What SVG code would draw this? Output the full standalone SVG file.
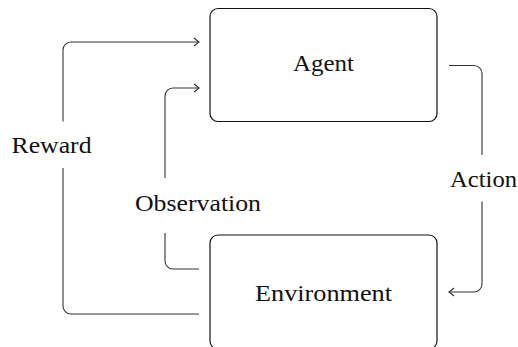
<svg xmlns="http://www.w3.org/2000/svg" width="518" height="347" viewBox="0 0 518 347">
<style>
.box{fill:#fff;stroke:#111;stroke-width:1.2}
.lbl{font-family:'Liberation Serif','Times New Roman',serif;font-size:24px;fill:#111;text-anchor:middle}
.con{fill:none;stroke:#333;stroke-width:1.1}
</style>
<defs>
<marker id="arr" viewBox="-6 -5 8 10" markerWidth="8" markerHeight="10" refX="0" refY="0" orient="auto" markerUnits="userSpaceOnUse">
<path d="M -5 -4 Q -1.5 -1 0 0 Q -1.5 1 -5 4" fill="none" stroke="#333" stroke-width="1.1"/>
</marker>
</defs>
<g id="agent">
<rect class="box" x="210" y="8.5" width="227" height="113" rx="8"/>
<text class="lbl" x="323.5" y="71" textLength="61" lengthAdjust="spacingAndGlyphs">Agent</text>
</g>
<g id="environment">
<rect class="box" x="210" y="235" width="227" height="114" rx="8"/>
<text class="lbl" x="323.5" y="301" textLength="137" lengthAdjust="spacingAndGlyphs">Environment</text>
</g>
<g id="connectors">
<path class="con" d="M 199 314 H 71 A 8 8 0 0 1 63 306 V 168"/>
<path class="con" d="M 63 121.5 V 50 A 8 8 0 0 1 71 42 H 199" marker-end="url(#arr)"/>
<text class="lbl" x="51.5" y="152.5" textLength="80" lengthAdjust="spacingAndGlyphs">Reward</text>
<path class="con" d="M 199 269 H 173 A 8 8 0 0 1 165 261 V 233"/>
<path class="con" d="M 165 178 V 96 A 8 8 0 0 1 173 88 H 199" marker-end="url(#arr)"/>
<text class="lbl" x="198" y="211" textLength="126" lengthAdjust="spacingAndGlyphs">Observation</text>
<path class="con" d="M 449 65.5 H 474 A 8 8 0 0 1 482 73.5 V 155"/>
<path class="con" d="M 482 201.5 V 284 A 8 8 0 0 1 474 292 H 449" marker-end="url(#arr)"/>
<text class="lbl" x="483.5" y="186.5" textLength="67" lengthAdjust="spacingAndGlyphs">Action</text>
</g>
</svg>
